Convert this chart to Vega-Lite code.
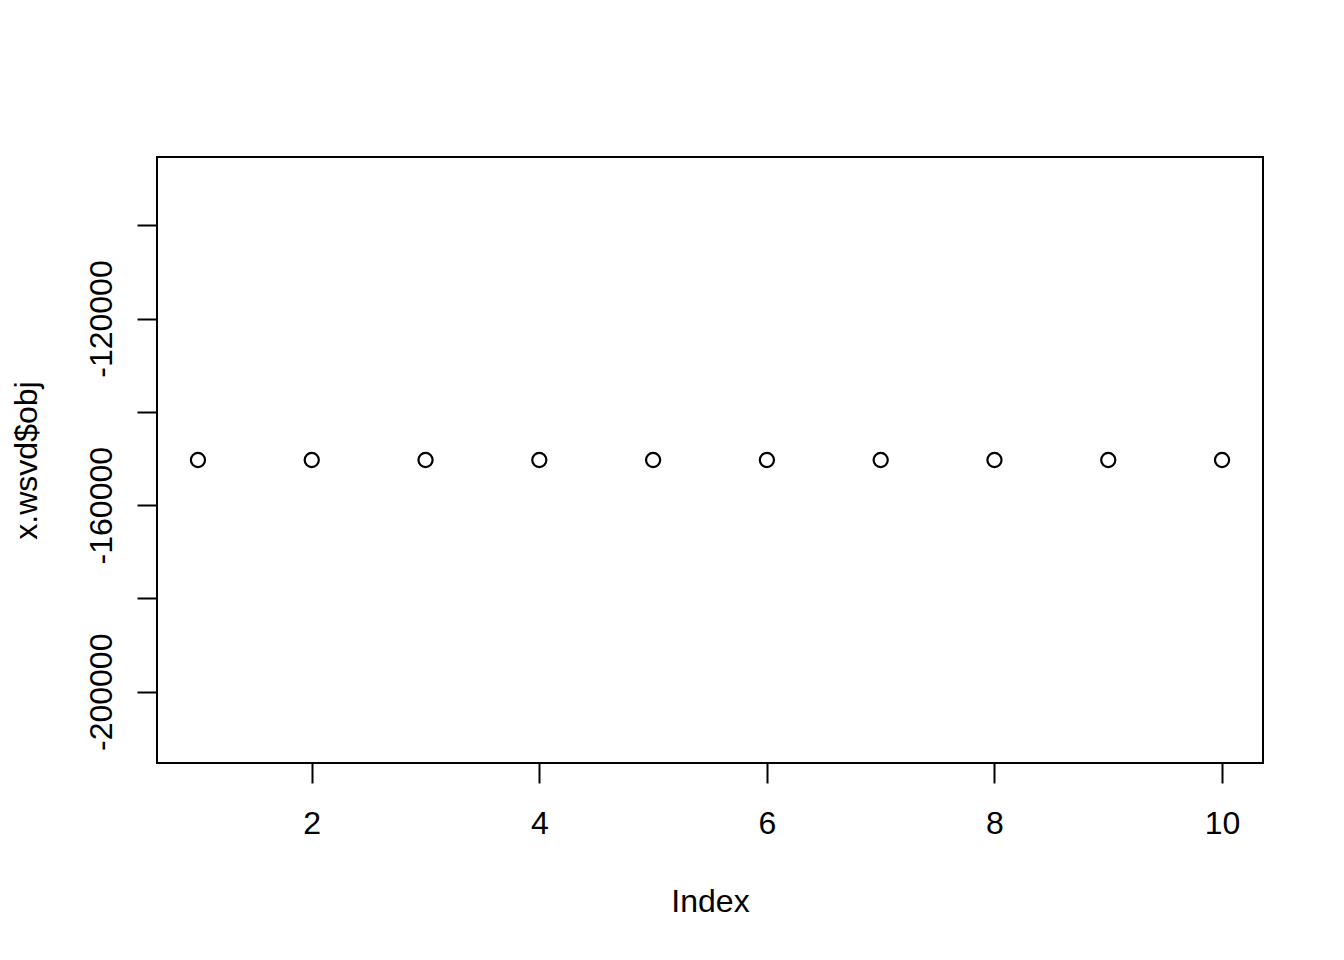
{
  "$schema": "https://vega.github.io/schema/vega-lite/v6.json",
  "width": 1106,
  "height": 606,
  "autosize": {"type": "none"},
  "padding": {"left": 157, "top": 157, "right": 81, "bottom": 197},
  "background": "white",
  "config": {
    "view": {"stroke": "black", "strokeWidth": 2, "fill": "white"},
    "font": "Liberation Sans",
    "axis": {
      "domain": false,
      "grid": false,
      "tickColor": "black",
      "tickWidth": 2,
      "tickSize": 20,
      "labelColor": "black",
      "labelFont": "Liberation Sans",
      "labelFontSize": 32,
      "labelFlush": false,
      "labelOverlap": false,
      "titleColor": "black",
      "titleFont": "Liberation Sans",
      "titleFontSize": 32,
      "titleFontWeight": "normal"
    }
  },
  "data": {
    "values": [
      {"Index": 1, "obj": -150322},
      {"Index": 2, "obj": -150322},
      {"Index": 3, "obj": -150322},
      {"Index": 4, "obj": -150322},
      {"Index": 5, "obj": -150322},
      {"Index": 6, "obj": -150322},
      {"Index": 7, "obj": -150322},
      {"Index": 8, "obj": -150322},
      {"Index": 9, "obj": -150322},
      {"Index": 10, "obj": -150322}
    ]
  },
  "mark": {"type": "point", "shape": "circle", "filled": false, "stroke": "black", "strokeWidth": 2.2, "size": 200, "opacity": 1},
  "encoding": {
    "x": {
      "field": "Index",
      "type": "quantitative",
      "scale": {"domain": [0.64, 10.36], "nice": false, "zero": false},
      "axis": {
        "title": "Index",
        "values": [2, 4, 6, 8, 10],
        "labelExpr": "'' + datum.value",
        "labelBaseline": "alphabetic",
        "labelPadding": 50,
        "titleX": 553,
        "titleY": 148,
        "titleAlign": "center",
        "titleBaseline": "alphabetic",
        "titleAnchor": null
      }
    },
    "y": {
      "field": "obj",
      "type": "quantitative",
      "scale": {"domain": [-215261, -85383], "nice": false, "zero": false},
      "axis": {
        "title": "x.wsvd$obj",
        "values": [-200000, -180000, -160000, -140000, -120000, -100000],
        "labelExpr": "datum.value % 40000 == 0 ? '' + datum.value : ''",
        "labelAngle": 270,
        "labelAlign": "center",
        "labelBaseline": "alphabetic",
        "labelPadding": 26,
        "titleAngle": 270,
        "titleX": -121,
        "titleY": 303,
        "titleAlign": "center",
        "titleBaseline": "alphabetic",
        "titleAnchor": null
      }
    }
  }
}
